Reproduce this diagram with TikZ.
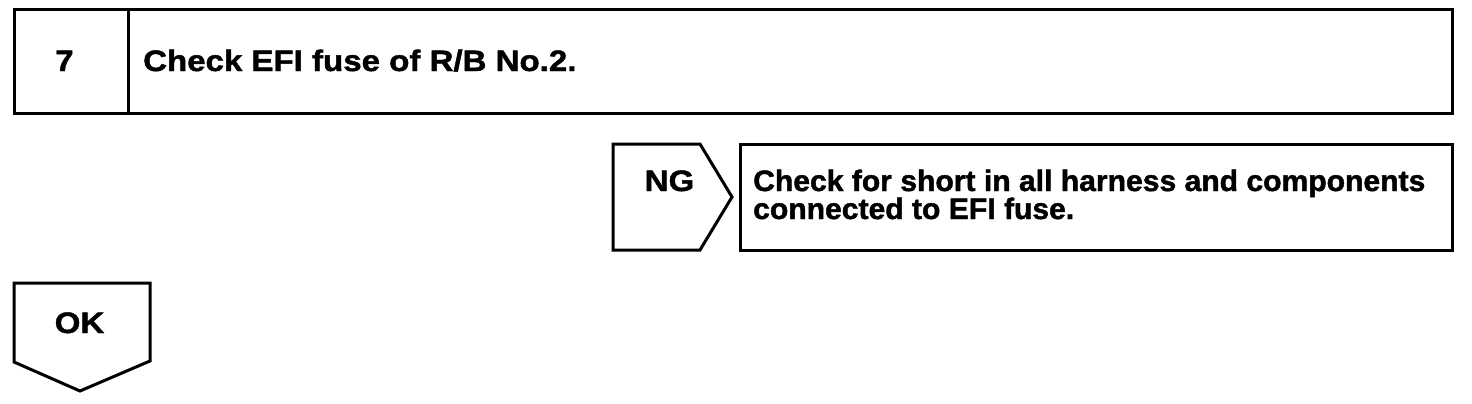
\documentclass[tikz,border=0pt]{standalone}
\usepackage{fontspec}
\setmainfont{Liberation Sans}
\newfontfamily\fwide[FakeStretch=1.12,FakeBold=1.5]{Liberation Sans}
\newfontfamily\fmid[FakeStretch=1.02,FakeBold=1.5]{Liberation Sans}
\begin{document}
\begin{tikzpicture}[x=1pt,y=-1pt,
  frame/.style={draw=black,line width=3pt,line join=miter},
  lbl/.style={inner sep=0pt,font=\fontsize{29.5}{28}\fwide\bfseries},
  lbltwo/.style={inner sep=0pt,align=left,font=\fontsize{29.5}{28}\fmid\bfseries}]
\useasboundingbox (0,0) rectangle (1472,404);
% top header box
\draw[frame] (14,10) rectangle (1452,113);
\draw[frame] (128,10) -- (128,113);
\node[lbl,anchor=base] (num) at (64.5,71) {7};
\node[lbl,anchor=base west] (title) at (143,71) {Check EFI fuse of R/B No.2.};
% NG tag
\draw[frame] (613,144) -- (700,144) -- (732,197) -- (700,250) -- (613,250) -- cycle;
\node[lbl,anchor=base] (ng) at (669.5,191) {NG};
% NG action box
\draw[frame] (740,144) rectangle (1452,250);
\node[lbltwo,anchor=base west] (act) at (753,219) {Check for short in all harness and components\\connected to EFI fuse.};
% OK tag
\draw[frame] (14,283) -- (150,283) -- (150,361) -- (80,391) -- (14,362) -- cycle;
\node[lbl,anchor=base] (ok) at (79.5,333) {OK};
\end{tikzpicture}
\end{document}
